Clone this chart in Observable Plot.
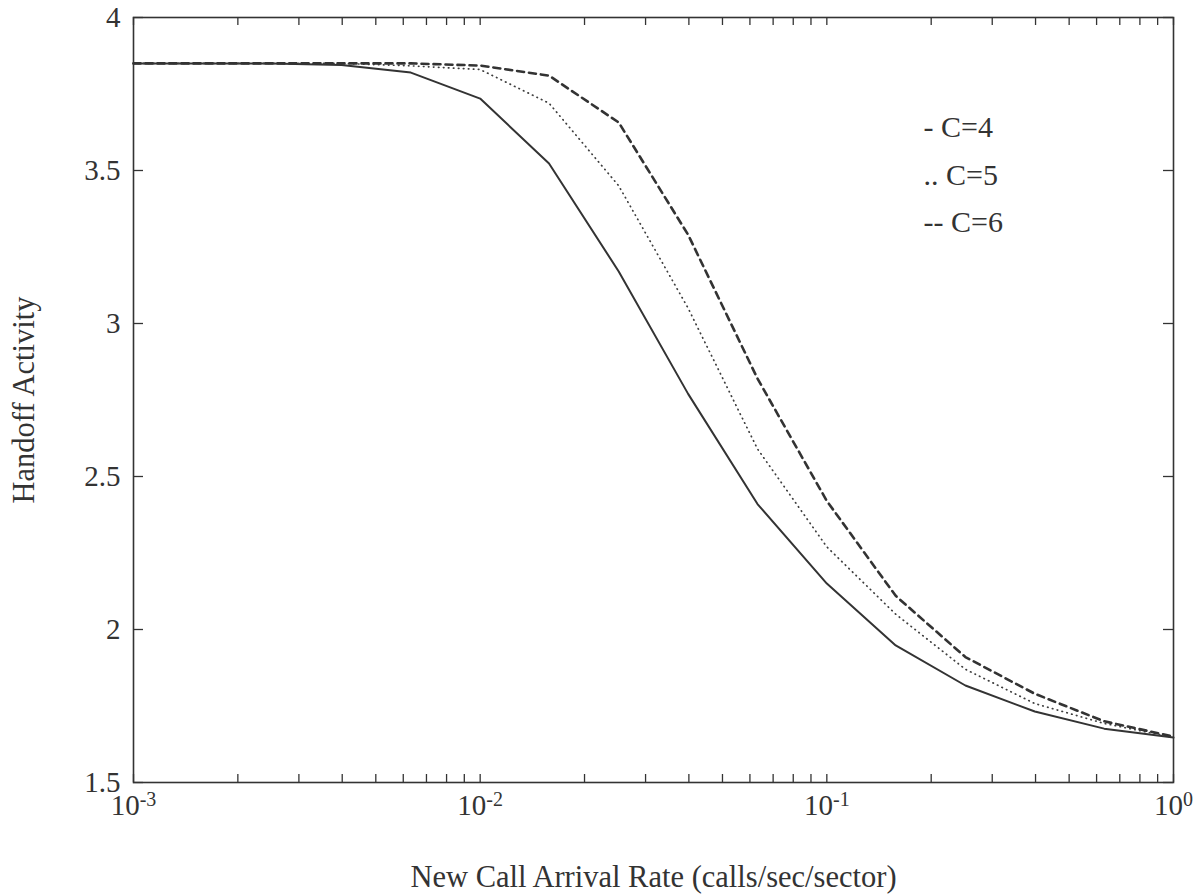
<!DOCTYPE html>
<html>
<head>
<meta charset="utf-8">
<script src="https://cdn.jsdelivr.net/npm/d3@7"></script>
<script src="https://cdn.jsdelivr.net/npm/@observablehq/plot@0.6"></script>
<style>
  html, body { margin: 0; padding: 0; background: #fff; }
</style>
</head>
<body>
<div id="chart"></div>
<script>
// New call arrival rate (calls/sec/sector), 0.2-decade steps
const rates = [0.001, 0.00158, 0.00251, 0.00398, 0.00631, 0.01, 0.0158, 0.0251,
               0.0398, 0.0631, 0.1, 0.158, 0.251, 0.398, 0.631, 1];
// Handoff activity per series
const c4 = [3.85, 3.85, 3.85, 3.845, 3.82, 3.735, 3.523, 3.17, 2.77, 2.41, 2.15, 1.948, 1.817, 1.732, 1.676, 1.647];
const c5 = [3.85, 3.85, 3.85, 3.85, 3.842, 3.83, 3.72, 3.45, 3.05, 2.59, 2.27, 2.05, 1.87, 1.758, 1.693, 1.647];
const c6 = [3.85, 3.85, 3.85, 3.85, 3.85, 3.843, 3.81, 3.657, 3.29, 2.82, 2.42, 2.11, 1.91, 1.79, 1.70, 1.65];

// Axis ticks
const xMajorTicks = [0.001, 0.01, 0.1, 1];
const xTickLabels = ["10^-3", "10^-2", "10^-1", "10^0"];
const decades = [0.001, 0.01, 0.1];
const multipliers = [1, 2, 3, 4, 5, 6, 7, 8, 9];
const xAllTicks = decades.flatMap(d => multipliers.map(m => d * m)).concat([1]);
const yTicks = [1.5, 2, 2.5, 3, 3.5, 4];

// Legend
const legendLabels = ["- C=4", ".. C=5", "-- C=6"];
const legendX = 0.19;
const legendY = [3.64, 3.485, 3.33];

const ink = "#333";
const frameW = 1040, frameH = 765;

const chart = Plot.plot({
  width: 1197,
  height: 895,
  marginLeft: 133,
  marginRight: 24,
  marginTop: 17,
  marginBottom: 113,
  style: { fontFamily: "'Liberation Serif', 'Times New Roman', serif", fontSize: "29px", color: ink, background: "#fff" },
  x: { type: "log", domain: [0.001, 1] },
  y: { domain: [1.5, 4] },
  marks: [
    // inward ticks on all four sides
    Plot.ruleX(xAllTicks, { x: d => d, insetTop: frameH - 8, stroke: ink, strokeWidth: 1.3 }),
    Plot.ruleX(xAllTicks, { x: d => d, insetBottom: frameH - 8, stroke: ink, strokeWidth: 1.3 }),
    Plot.ruleY(yTicks, { y: d => d, insetRight: frameW - 10, stroke: ink, strokeWidth: 1.3 }),
    Plot.ruleY(yTicks, { y: d => d, insetLeft: frameW - 10, stroke: ink, strokeWidth: 1.3 }),
    Plot.axisX({
      ticks: xMajorTicks,
      tickFormat: d => xTickLabels[xMajorTicks.indexOf(d)],
      tickSize: 0, tickPadding: 12,
      label: "New Call Arrival Rate (calls/sec/sector)",
      labelAnchor: "center", labelOffset: 104, labelArrow: "none",
      fontSize: 29
    }),
    Plot.axisY({
      ticks: yTicks,
      tickFormat: d => String(d),
      tickSize: 0, tickPadding: 13,
      label: "Handoff Activity",
      labelAnchor: "center", labelOffset: 121, labelArrow: "none",
      fontSize: 29
    }),
    Plot.line(c4, { x: (d, i) => rates[i], y: d => d, stroke: ink, strokeWidth: 2 }),
    Plot.line(c5, { x: (d, i) => rates[i], y: d => d, stroke: "#3d3d3d", strokeWidth: 1.7, strokeDasharray: "0.5,4.5", strokeLinecap: "round" }),
    Plot.line(c6, { x: (d, i) => rates[i], y: d => d, stroke: ink, strokeWidth: 2.6, strokeDasharray: "7,5" }),
    Plot.text(legendLabels, { x: () => legendX, y: (d, i) => legendY[i], text: d => d, textAnchor: "start", fontSize: 30, fill: ink }),
    Plot.frame({ stroke: ink, strokeWidth: 1.6 })
  ]
});

// Render the x tick labels with superscript exponents
chart.querySelectorAll('g[aria-label="x-axis tick label"] text').forEach(t => {
  const s = t.textContent;
  const m = s.match(/^(\d+)\^(.*)$/);
  if (!m) return;
  t.textContent = "";
  t.appendChild(document.createTextNode(m[1]));
  const sup = document.createElementNS("http://www.w3.org/2000/svg", "tspan");
  sup.setAttribute("dy", "-0.45em");
  sup.setAttribute("font-size", "20");
  sup.textContent = m[2];
  t.appendChild(sup);
});
// Slightly larger axis titles, as in the reference
chart.querySelectorAll('g[aria-label="x-axis label"], g[aria-label="y-axis label"]').forEach(g => {
  g.setAttribute("font-size", "30.5");
  g.querySelectorAll("text").forEach(t => t.setAttribute("font-size", "30.5"));
});

document.getElementById("chart").appendChild(chart);
</script>
</body>
</html>
